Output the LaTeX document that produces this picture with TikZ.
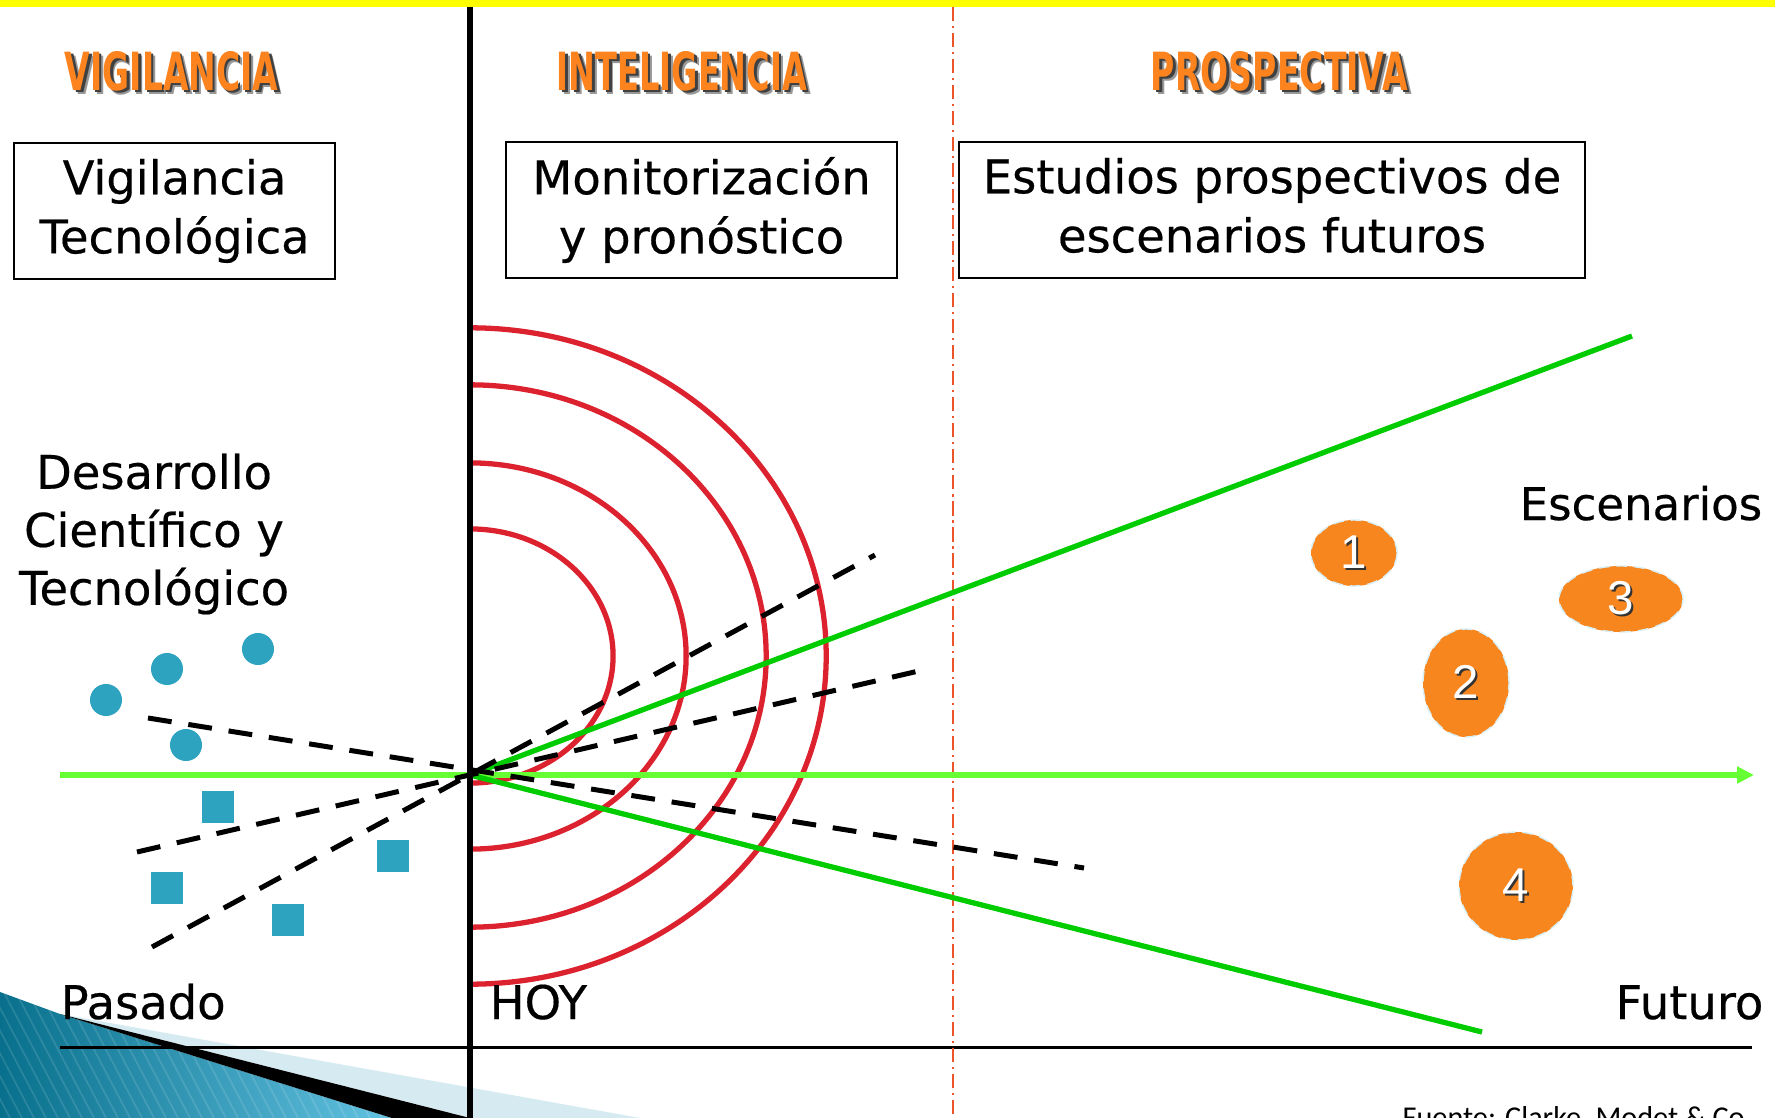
\documentclass[tikz,border=0pt]{standalone}
\usepackage{fontspec}
\usepackage{graphicx}
\setmainfont{DejaVu Sans}
\newfontfamily\lblfont{DejaVu Sans}[FakeBold=0.4]
\newfontfamily\numfont{Liberation Sans}
\newfontfamily\srcfont{Carlito}
\usetikzlibrary{arrows.meta,shapes.geometric}
\definecolor{yellowband}{RGB}{255,255,0}
\definecolor{hdrorange}{RGB}{252,131,30}
\definecolor{arcred}{RGB}{220,34,46}
\definecolor{dgreen}{RGB}{0,204,0}
\definecolor{lgreen}{RGB}{102,255,51}
\definecolor{tealdot}{RGB}{45,163,192}
\definecolor{ddred}{RGB}{236,84,44}
\definecolor{scenor}{RGB}{247,134,30}
\definecolor{scenedge}{RGB}{215,240,248}
\definecolor{tealdark}{RGB}{8,112,140}
\definecolor{teallight}{RGB}{100,195,226}
\definecolor{palebl}{RGB}{214,234,242}
\newcommand\hdrtext[2]{%
 \rlap{\kern1.2pt\raisebox{-1.2pt}{\color{black!40}\resizebox{#1}{11.1pt}{\bfseries #2}}}%
 \rlap{\kern0.7pt\raisebox{-0.7pt}{\color{black!75}\resizebox{#1}{11.1pt}{\bfseries #2}}}%
 {\color{hdrorange}\resizebox{#1}{11.1pt}{\bfseries #2}}}
\newcommand\numtext[1]{\rlap{\kern0.6pt\raisebox{-0.6pt}{\color{black!80}#1}}{\color{white}#1}}
\begin{document}
\begin{tikzpicture}[x=0.01cm,y=-0.01cm,
  heavyln/.style={line width=1.5pt},
  boxst/.style={draw=black, line width=0.6pt, inner sep=0pt, align=center, minimum height=1.36cm, font=\lblfont\fontsize{13.2}{16.8}\selectfont},
  lbl/.style={inner sep=0pt, font=\lblfont\fontsize{13.2}{16.5}\selectfont},
  hdrst/.style={inner sep=0pt},
  tdot/.style={circle, fill=tealdot, inner sep=0pt, minimum size=0.32cm},
  tsq/.style={rectangle, fill=tealdot, inner sep=0pt, minimum size=0.32cm},
  scen/.style={ellipse, fill=scenor, draw=scenedge, densely dashed, line width=0.4pt, inner sep=0pt, font=\numfont\fontsize{13.5}{13.5}\selectfont},
  dashln/.style={black, line width=1.42pt, dash pattern=on 6.8pt off 4.8pt}]
\useasboundingbox (0,0) rectangle (1775,1118);
\clip (0,0) rectangle (1775,1118);
\fill[white] (0,0) rectangle (1775,1118);
\fill[yellowband] (0,0) rectangle (1775,7);
% bottom-left decoration
\fill[palebl] (60,1014) -- (640,1118) -- (470,1118) -- cycle;
\begin{scope}
  \clip (0,992) -- (60,1014) -- (392,1118) -- (0,1118) -- cycle;
  \shade[left color=tealdark, right color=teallight] (0,985) rectangle (400,1118);
  \foreach \i in {-300,-288,...,400} \draw[white, opacity=0.12, line width=0.5pt] (\i,985) -- (\i+70,1118);
\end{scope}
\fill[black] (60,1014) -- (470,1118) -- (392,1118) -- cycle;
% coordinates
\coordinate (O) at (470,775);
\coordinate (C) at (470,656);
\coordinate (vtop) at (470,7);
\coordinate (vbot) at (470,1118);
\coordinate (rtop) at (953,7);
\coordinate (rbot) at (953,1118);
\coordinate (bl) at (60,1047);
\coordinate (br) at (1752,1047);
\coordinate (al) at (60,775);
\coordinate (ar) at (1754,775);
\coordinate (gu) at (1632,336);
\coordinate (gd) at (1482,1032);
\coordinate (d1a) at (148,718);
\coordinate (d1b) at (1084,868);
\coordinate (d2a) at (137,852);
\coordinate (d2b) at (923,670);
\coordinate (d3a) at (152,947);
\coordinate (d3b) at (875,555);
% red arcs
\foreach \rx/\ry in {3.56/3.28, 2.96/2.71, 2.16/1.93, 1.43/1.27}
  \draw[arcred, heavyln] ([yshift=\ry cm]C) arc[start angle=90, end angle=-90, x radius=\rx cm, y radius=\ry cm];
% lines
\draw[black, line width=0.85pt] (bl) -- (br);
\draw[ddred, line width=0.6pt, dash pattern=on 4pt off 1.4pt on 0.6pt off 1.4pt] (rtop) -- (rbot);
\draw[lgreen, heavyln, -{Triangle[length=4.8pt,width=4.6pt]}] (al) -- (ar);
\draw[dgreen, heavyln] (O) -- (gu);
\draw[dgreen, heavyln] (O) -- (gd);
\draw[dashln] (d1a) -- (d1b);
\draw[dashln] (d2a) -- (d2b);
\draw[dashln] (d3a) -- (d3b);
\draw[black, line width=1.75pt] (vtop) -- (vbot);
% data points
\node[tdot] (c1) at (106,700) {};
\node[tdot] (c2) at (167,669) {};
\node[tdot] (c3) at (258,649) {};
\node[tdot] (c4) at (186,745) {};
\node[tsq] (s1) at (218,807) {};
\node[tsq] (s2) at (167,888) {};
\node[tsq] (s3) at (288,920) {};
\node[tsq] (s4) at (393,856) {};
% headers
\node[hdrst] (h1) at (171.5,73.5) {\hdrtext{60.6pt}{VIGILANCIA}};
\node[hdrst] (h2) at (682,73.5) {\hdrtext{71.1pt}{INTELIGENCIA}};
\node[hdrst] (h3) at (1279.5,73.5) {\hdrtext{73.1pt}{PROSPECTIVA}};
% boxes
\node[boxst, minimum width=3.21cm] (bx1) at (174.5,211) {Vigilancia\\Tecnológica};
\node[boxst, minimum width=3.91cm] (bx2) at (701.5,210) {Monitorización\\y pronóstico};
\node[boxst, minimum width=6.25cm] (bx3) at (1272,210) {Estudios prospectivos de\\escenarios futuros\vphantom{g}};
% labels
\node[lbl, align=center] (dev) at (154,534) {Desarrollo\\Científico y\\Tecnológico};
\node[lbl, anchor=base west] (pas) at (60,1019) {Pasado};
\node[lbl, anchor=base west] (hoy) at (489,1019) {HOY};
\node[lbl, anchor=base east] (fut) at (1764,1019) {Futuro};
\node[lbl, anchor=base west, font=\lblfont\fontsize{12.8}{15}\selectfont] (esc) at (1519,520) {Escenarios};
% scenarios
\node[scen, minimum width=0.86cm, minimum height=0.66cm] (e1) at (1354,553) {\numtext{1}};
\node[scen, minimum width=0.86cm, minimum height=1.08cm] (e2) at (1466,683) {\numtext{2}};
\node[scen, minimum width=1.24cm, minimum height=0.66cm] (e3) at (1621,599) {\numtext{3}};
\node[scen, minimum width=1.14cm, minimum height=1.08cm] (e4) at (1516,886) {\numtext{4}};
% source
\node[anchor=base west, inner sep=0pt, font=\srcfont\fontsize{8.6}{10}\selectfont] (src) at (1402,1127.5) {Fuente: Clarke, Modet \& Co.};
\end{tikzpicture}
\end{document}
